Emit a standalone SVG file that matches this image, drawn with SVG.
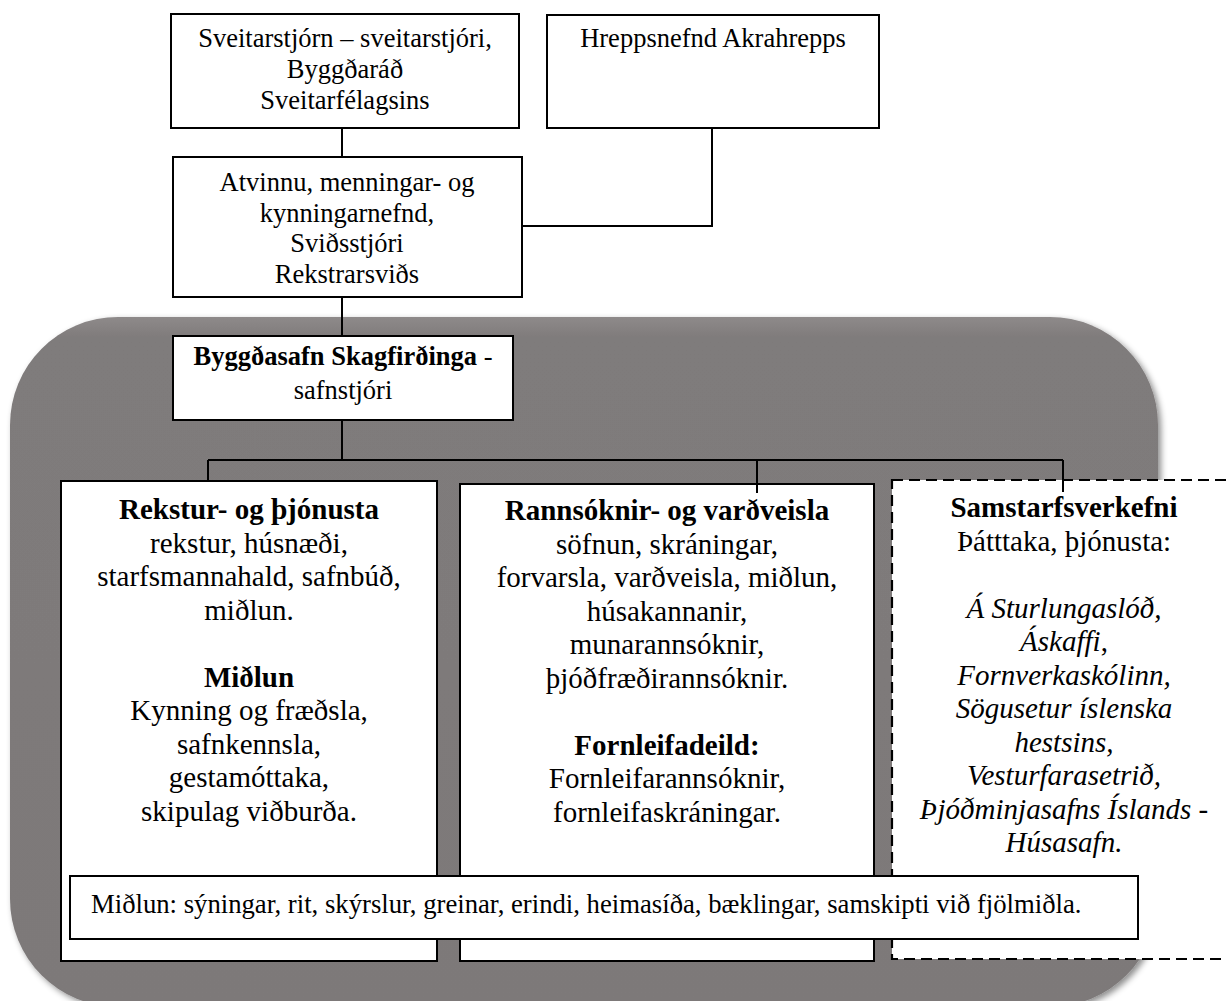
<svg xmlns="http://www.w3.org/2000/svg" width="1227" height="1001" viewBox="0 0 1227 1001">
<defs>
<filter id="sh" x="-5%" y="-5%" width="110%" height="110%">
<feDropShadow dx="3" dy="3" stdDeviation="3" flood-color="#000" flood-opacity="0.45"/>
</filter>
<linearGradient id="bevel" x1="0" y1="0" x2="0" y2="1">
<stop offset="0" stop-color="#8e8a8a"/>
<stop offset="0.03" stop-color="#7f7b7b"/>
<stop offset="1" stop-color="#7d7979"/>
</linearGradient>
</defs>
<style>
.box{fill:#fff;stroke:#000;stroke-width:2}
.dash{fill:#fff;stroke:#000;stroke-width:2.2;stroke-dasharray:11 6}
.t{font-family:"Liberation Serif","Times New Roman",serif;fill:#000}
.s{font-size:26.5px}
.m{font-size:26.7px}
.l{font-size:29px}
.c{text-anchor:middle}
.b{font-weight:bold}
.i{font-style:italic}
.ln{stroke:#000;stroke-width:2;fill:none}
</style>
<g id="background">
<rect x="10" y="317" width="1148" height="690" rx="108" ry="108" fill="url(#bevel)" filter="url(#sh)"/>
</g>
<g id="connectors">
<line class="ln" x1="342" y1="128" x2="342" y2="157"/>
<polyline class="ln" points="712,128 712,226 522,226"/>
<line class="ln" x1="342" y1="297" x2="342" y2="336"/>
<line class="ln" x1="342" y1="420" x2="342" y2="460"/>
<line class="ln" x1="208" y1="460" x2="1063" y2="460"/>
<line class="ln" x1="208" y1="460" x2="208" y2="481"/>
<line class="ln" x1="757" y1="460" x2="757" y2="484"/>
<line class="ln" x1="1063" y1="460" x2="1063" y2="480"/>
</g>
<g id="node-sveitarstjorn">
<rect class="box" x="171" y="14" width="348" height="114"/>
<text class="t s c" x="345" y="47">Sveitarstjórn – sveitarstjóri,</text>
<text class="t s c" x="345" y="78">Byggðaráð</text>
<text class="t s c" x="345" y="109">Sveitarfélagsins</text>
</g>
<g id="node-hreppsnefnd">
<rect class="box" x="547" y="15" width="332" height="113"/>
<text class="t s c" x="713" y="47">Hreppsnefnd Akrahrepps</text>
</g>
<g id="node-atvinnu">
<rect class="box" x="173" y="157" width="349" height="140"/>
<text class="t s c" x="347" y="191">Atvinnu, menningar- og</text>
<text class="t s c" x="347" y="222">kynningarnefnd,</text>
<text class="t s c" x="347" y="252">Sviðsstjóri</text>
<text class="t s c" x="347" y="283">Rekstrarsviðs</text>
</g>
<g id="node-byggdasafn">
<rect class="box" x="173" y="336" width="340" height="84"/>
<text class="t s c" x="343" y="365"><tspan class="b">Byggðasafn Skagfirðinga</tspan> -</text>
<text class="t s c" x="343" y="399">safnstjóri</text>
</g>
<g id="node-rekstur">
<rect class="box" x="61" y="481" width="376" height="480"/>
<text class="t l c" x="249" y="519"><tspan class="b">Rekstur- og þjónusta</tspan><tspan x="249" dy="33.5">rekstur, húsnæði,</tspan><tspan x="249" dy="33.5">starfsmannahald, safnbúð,</tspan><tspan x="249" dy="33.5">miðlun.</tspan><tspan class="b" x="249" dy="67">Miðlun</tspan><tspan x="249" dy="33.5">Kynning og fræðsla,</tspan><tspan x="249" dy="33.5">safnkennsla,</tspan><tspan x="249" dy="33.5">gestamóttaka,</tspan><tspan x="249" dy="33.5">skipulag viðburða.</tspan></text>
</g>
<g id="node-rannsoknir">
<rect class="box" x="460" y="484" width="414" height="477"/>
<line class="ln" x1="757" y1="484" x2="757" y2="493"/>
<text class="t l c" x="667" y="520"><tspan class="b">Rannsóknir- og varðveisla</tspan><tspan x="667" dy="33.5">söfnun, skráningar,</tspan><tspan x="667" dy="33.5">forvarsla, varðveisla, miðlun,</tspan><tspan x="667" dy="33.5">húsakannanir,</tspan><tspan x="667" dy="33.5">munarannsóknir,</tspan><tspan x="667" dy="33.5">þjóðfræðirannsóknir.</tspan><tspan class="b" x="667" dy="67">Fornleifadeild:</tspan><tspan x="667" dy="33.5">Fornleifarannsóknir,</tspan><tspan x="667" dy="33.5">fornleifaskráningar.</tspan></text>
</g>
<g id="node-samstarf">
<rect class="dash" x="892" y="480" width="350" height="479"/>
<line class="ln" x1="1063" y1="480" x2="1063" y2="492"/>
<text class="t l c" x="1064" y="517"><tspan class="b">Samstarfsverkefni</tspan><tspan x="1064" dy="33.5">Þátttaka, þjónusta:</tspan><tspan class="i" x="1064" dy="67">Á Sturlungaslóð,</tspan><tspan class="i" x="1064" dy="33.5">Áskaffi<tspan font-style="normal">,</tspan></tspan><tspan class="i" x="1064" dy="33.5">Fornverkaskólinn,</tspan><tspan class="i" x="1064" dy="33.5">Sögusetur íslenska</tspan><tspan class="i" x="1064" dy="33.5">hestsins,</tspan><tspan class="i" x="1064" dy="33.5">Vesturfarasetrið,</tspan><tspan class="i" x="1064" dy="33.5">Þjóðminjasafns Íslands -</tspan><tspan class="i" x="1064" dy="33.5">Húsasafn.</tspan></text>
</g>
<g id="node-midlun">
<rect class="box" x="70" y="876" width="1068" height="63"/>
<text class="t m" x="91" y="913">Miðlun: sýningar, rit, skýrslur, greinar, erindi, heimasíða, bæklingar, samskipti við fjölmiðla.</text>
</g>
</svg>
